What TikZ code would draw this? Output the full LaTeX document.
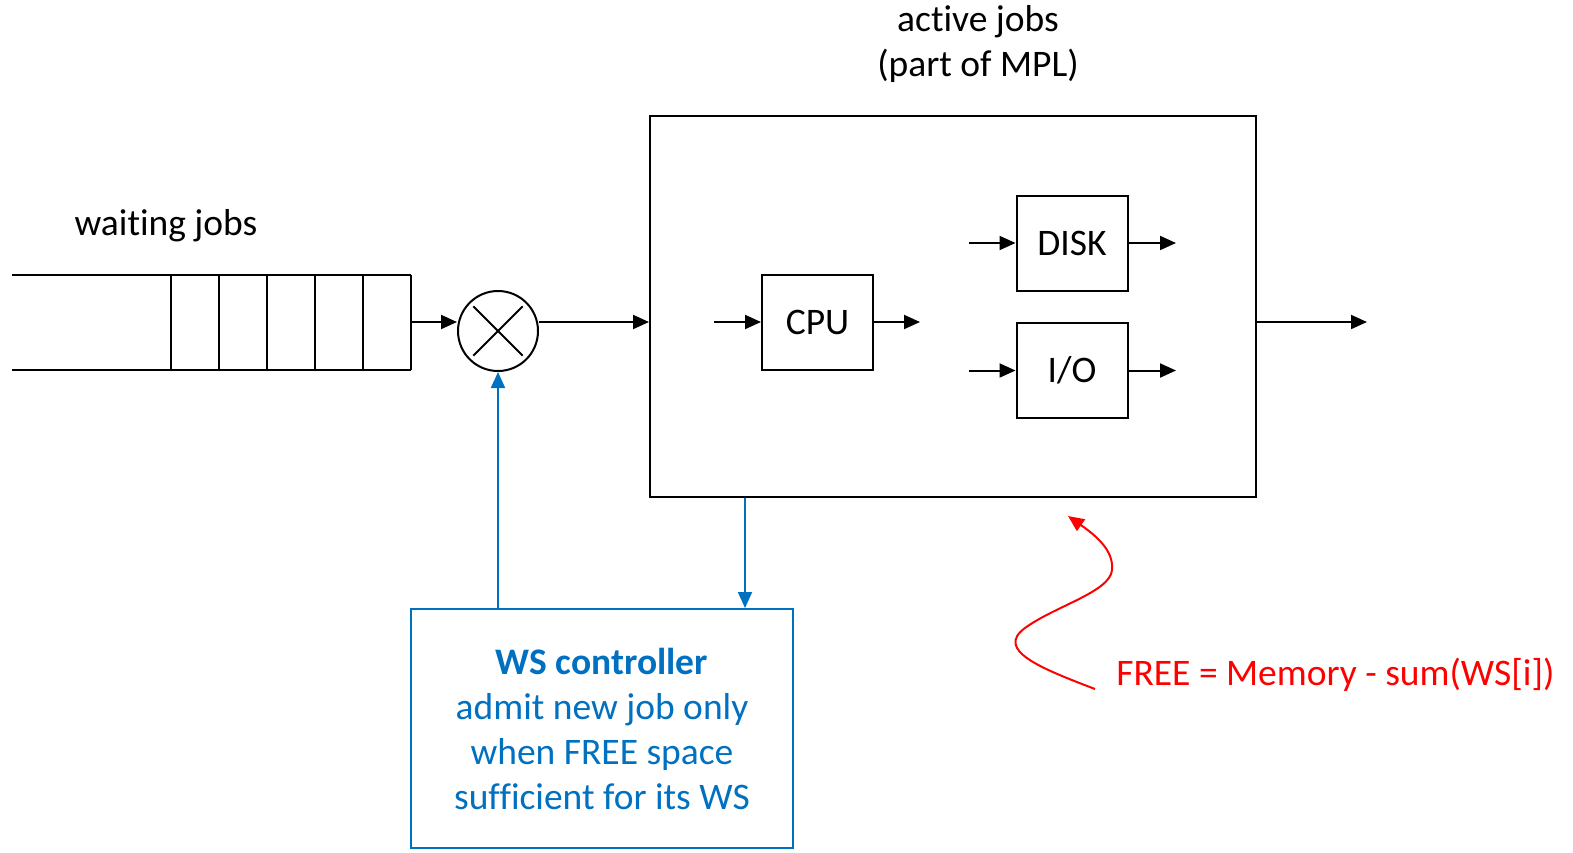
\documentclass[tikz,border=0pt]{standalone}
\usepackage{fontspec}
\setmainfont{Carlito}[Ligatures=NoCommon,Contextuals=NoAlternate]
\usetikzlibrary{arrows.meta,calc}
\definecolor{wsblue}{RGB}{0,112,192}

\begin{document}
\begin{tikzpicture}[x=1pt,y=-1pt,font=\fontsize{37.5}{45}\selectfont,
  line width=2pt,
  flow/.style={-{Triangle[length=16pt,width=14pt]}},
  unit/.style={draw,minimum width=111pt,minimum height=95pt,inner sep=0pt},
  ctrl/.style={wsblue,line width=2pt}]
  \useasboundingbox (0,0) rectangle (1573,852);

  % Queue of waiting jobs
  \draw (12,275) -- (411,275);
  \draw (12,370) -- (411,370);
  \foreach \x in {171,219,267,315,363,411}
    \draw (\x,275) -- (\x,370);
  \coordinate (qout) at (411,322);
  \node (waiting) at (166,226) {waiting jobs};

  % Admission switch
  \node[draw,circle,minimum size=80pt,inner sep=0pt] (mux) at (498,331) {};
  \draw ($(mux.center)!0.85!(mux.north west)$) -- ($(mux.center)!0.85!(mux.south east)$);
  \draw ($(mux.center)!0.85!(mux.north east)$) -- ($(mux.center)!0.85!(mux.south west)$);

  % Active jobs
  \node[draw,minimum width=606pt,minimum height=381pt,inner sep=0pt] (mpl) at (953,306.5) {};
  \node[align=center] (active) at (978,44) {active jobs\\(part of MPL)};
  \node[unit] (cpu) at (817.5,322.5) {CPU};
  \node[unit] (disk) at (1072,243) {DISK};
  \node[unit] (io) at (1072,370.5) {I/O};
  \coordinate (cpuin) at (714,322);
  \coordinate (cpuout) at (920,322);
  \coordinate (diskin) at (969,243);
  \coordinate (diskout) at (1176,243);
  \coordinate (ioin) at (969,370.5);
  \coordinate (ioout) at (1176,370.5);
  \coordinate (out) at (1367,322);

  \draw[flow] (qout) -- (qout -| mux.west);
  \draw[flow] (mux.east |- qout) -- (qout -| mpl.west);
  \draw[flow] (cpuin) -- (cpu.west |- cpuin);
  \draw[flow] (cpu.east |- cpuin) -- (cpuout);
  \draw[flow] (diskin) -- (disk.west);
  \draw[flow] (disk.east) -- (diskout);
  \draw[flow] (ioin) -- (io.west);
  \draw[flow] (io.east) -- (ioout);
  \draw[flow] (mpl.east |- out) -- (out);

  % WS controller
  \node[draw=wsblue,text=wsblue,align=center,minimum width=382pt,minimum height=239pt,inner sep=0pt] (ws) at (602,728.5)
    {\textbf{WS controller}\\admit new job only\\when FREE space\\sufficient for its WS};
  \draw[ctrl,flow] (ws.north -| mux.south) -- (mux.south);
  \draw[ctrl,flow] (745,0 |- mpl.south) -- (745,0 |- ws.north);

  % Free memory
  \node[red,anchor=west] (free) at (1112,675) {FREE = Memory - sum(WS[i])};
  \coordinate (freetip) at (1068,516);
  \draw[red,flow] (1095,689) .. controls (1040,668) and (995,650) .. (1025,628)
    .. controls (1055,606) and (1110,592) .. (1112,570)
    .. controls (1114,550) and (1095,535) .. (freetip);
\end{tikzpicture}
\end{document}
